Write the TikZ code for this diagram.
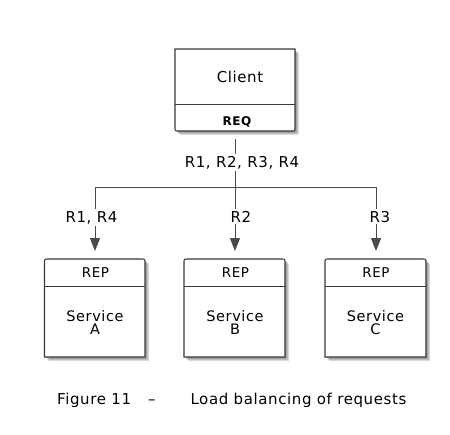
\documentclass[tikz,border=0pt]{standalone}
\usepackage{fontspec}
\setmainfont{DejaVu Sans}[LetterSpace=4]
\usetikzlibrary{arrows.meta}
% box outlines: #1 left, #2 top, #3 right, #4 bottom
\newcommand\clientoutline[4]{(#1,#2) -- (#1,#4-4) .. controls (#1,#4) .. (#1+4,#4) -- (#3-4,#4) .. controls (#3,#4) .. (#3,#4-4) -- (#3,#2) -- cycle}
\newcommand\serviceoutline[4]{(#1,#4) -- (#1,#2+4) .. controls (#1,#2) .. (#1+4,#2) -- (#3-4,#2) .. controls (#3,#2) .. (#3,#2+4) -- (#3,#4) -- cycle}
\definecolor{edge}{HTML}{3A3A3A}
\definecolor{wire}{HTML}{4A4A4A}
\tikzset{
  boxline/.style={draw=edge, line width=1.1pt, fill=white},
  divline/.style={draw=edge, line width=1pt},
  shadowlayer/.style={fill=black, opacity=0.13},
  txt/.style={font=\fontsize{15}{15}\selectfont, inner sep=0pt, anchor=base},
  svctxt/.style={font=\fontsize{14.5}{13.5}\selectfont, inner sep=0pt, align=center, anchor=north},
  reqtxt/.style={font=\fontsize{12}{12}\selectfont\bfseries, inner sep=0pt, anchor=base},
  reptxt/.style={font=\fontsize{13.5}{13.5}\selectfont, inner sep=0pt, anchor=base},
  lbl/.style={font=\fontsize{15}{15}\selectfont, fill=white, inner xsep=1pt, inner ysep=2pt, anchor=base},
  wireline/.style={draw=wire, line width=1pt},
  arrowline/.style={draw=wire, line width=1pt, -{Triangle[width=10pt,length=13pt]}, shorten >=8pt},
}
\begin{document}
\begin{tikzpicture}[x=1pt,y=-1pt]
\useasboundingbox[fill=white] (0,0) rectangle (450,434);
% shadows
\foreach \s in {1,2,3,4}{
  \fill[shadowlayer, shift={(\s,\s)}] \clientoutline{175}{49}{295}{131};
  \fill[shadowlayer, shift={(\s,\s)}] \serviceoutline{44.5}{259}{145}{357};
  \fill[shadowlayer, shift={(\s,\s)}] \serviceoutline{184}{259}{285}{357};
  \fill[shadowlayer, shift={(\s,\s)}] \serviceoutline{325}{259}{426}{357};
}
% boxes
\path[boxline] \clientoutline{175}{49}{295}{131};
\draw[divline] (175,104) -- (295,104);
\path[boxline] \serviceoutline{44.5}{259}{145}{357};
\draw[divline] (44.5,286) -- (145,286);
\path[boxline] \serviceoutline{184}{259}{285}{357};
\draw[divline] (184,286) -- (285,286);
\path[boxline] \serviceoutline{325}{259}{426}{357};
\draw[divline] (325,286) -- (426,286);
% texts in boxes
\node[txt] (client) at (240,82) {Client};
\node[reqtxt] (req) at (237,125) {REQ};
\node[reptxt] (repA) at (95.5,277) {REP};
\node[reptxt] (repB) at (235.5,277) {REP};
\node[reptxt] (repC) at (376,277) {REP};
\node[svctxt] (svcA) at (95,310) {Service\\A};
\node[svctxt] (svcB) at (235,310) {Service\\B};
\node[svctxt] (svcC) at (375.5,310) {Service\\C};
% anchor points
\coordinate (clientS) at (235,131);
\coordinate (busA) at (95,187);
\coordinate (busB) at (235,187);
\coordinate (busC) at (376,187);
\coordinate (topA) at (95,259);
\coordinate (topB) at (235,259);
\coordinate (topC) at (376,259);
% connectors
\draw[wireline, shorten <=8pt] (clientS) -- (busB);
\draw[wireline] (busA) -- (busC);
\draw[arrowline] (busA) -- (topA);
\draw[arrowline] (busB) -- (topB);
\draw[arrowline] (busC) -- (topC);
% labels
\node[lbl] (lall) at (242,167) {R1, R2, R3, R4};
\node[lbl] (lA) at (91.5,222) {R1, R4};
\node[lbl] (lB) at (241,222) {R2};
\node[lbl] (lC) at (380,222) {R3};
% caption
\node[font=\fontsize{15}{15}\selectfont, inner sep=0pt, anchor=base west] (caption) at (57,404) {Figure 11\hspace{17pt}–\hspace{35pt}Load balancing of requests};
\end{tikzpicture}
\end{document}
